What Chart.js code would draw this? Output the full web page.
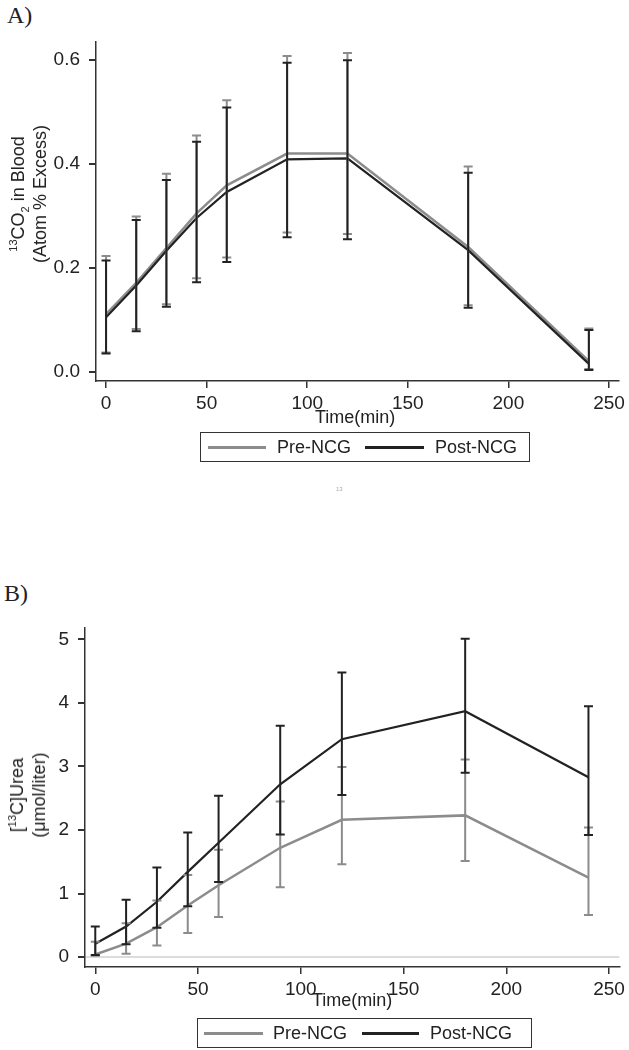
<!DOCTYPE html>
<html>
<head>
<meta charset="utf-8">
<script src="https://cdn.jsdelivr.net/npm/chart.js@4.4.0/dist/chart.umd.min.js"></script>
<style>
  body { margin: 0; background: #fff; width: 629px; height: 1050px; position: relative; overflow: hidden;
         font-family: "Liberation Sans", Arial, sans-serif; color: #222; }
  canvas { position: absolute; left: 0; }
  .panel { position: absolute; font-family: "Liberation Serif", "Times New Roman", serif; font-size: 24px; }
  .ytitle { position: absolute; font-size: 18px; white-space: nowrap; transform: translate(-50%, -50%) rotate(-90deg);
            text-align: center; line-height: 22px; }
  .ytitle sup, .ytitle sub { font-size: 11px; line-height: 0; }
  .xtitle { position: absolute; font-size: 18px; }
  .legend { position: absolute; border: 1.5px solid #333; box-sizing: border-box; height: 30px; font-size: 18px; }
  .legend span { position: absolute; top: 4px; }
  .legend i { position: absolute; top: 13px; height: 2.5px; }
</style>
</head>
<body>
<div class="panel" style="left:7px; top:2px;">A)</div>
<div class="panel" style="left:4px; top:580px;">B)</div>

<canvas id="chartA" width="629" height="430" style="top:0px;"></canvas>
<canvas id="chartB" width="629" height="420" style="top:580px;"></canvas>

<div class="ytitle" style="left:29px; top:194px;"><sup>13</sup>CO<sub>2</sub> in Blood<br>(Atom % Excess)</div>
<div class="ytitle" style="left:28px; top:795px;">[<sup>13</sup>C]Urea<br>(μmol/liter)</div>

<div class="xtitle" style="left:315px; top:407px;">Time(min)</div>
<div class="xtitle" style="left:312px; top:990px;">Time(min)</div>

<div class="legend" style="left:200px; top:432px; width:330px;">
  <i style="left:7px; width:58px; background:#8c8c8c;"></i><span style="left:76px;">Pre-NCG</span>
  <i style="left:164px; width:59px; background:#222;"></i><span style="left:234px;">Post-NCG</span>
</div>
<div class="legend" style="left:197px; top:1018px; width:335px;">
  <i style="left:6px; width:59px; background:#8c8c8c;"></i><span style="left:75px;">Pre-NCG</span>
  <i style="left:164px; width:57px; background:#222;"></i><span style="left:232px;">Post-NCG</span>
</div>

<div style="position:absolute; left:336px; top:486px; font-size:6px; color:#aaa;">13</div>

<script>
// shared
const times = [0, 15, 30, 45, 60, 90, 120, 180, 240];
const xTicks = [0, 50, 100, 150, 200, 250];

// A) 13CO2 in blood
const co2Ticks = [0, 0.2, 0.4, 0.6];
const co2Pre = [0.111, 0.171, 0.238, 0.305, 0.359, 0.420, 0.420, 0.240, 0.020];
const co2PreLo = [0.037, 0.082, 0.130, 0.180, 0.220, 0.268, 0.265, 0.128, 0.005];
const co2PreHi = [0.223, 0.299, 0.381, 0.455, 0.523, 0.608, 0.614, 0.395, 0.083];
const co2Post = [0.105, 0.166, 0.233, 0.296, 0.346, 0.409, 0.411, 0.234, 0.015];
const co2PostLo = [0.035, 0.078, 0.125, 0.172, 0.211, 0.259, 0.255, 0.123, 0.003];
const co2PostHi = [0.214, 0.292, 0.369, 0.443, 0.509, 0.595, 0.600, 0.383, 0.080];

// B) [13C]urea
const ureaTicks = [0, 1, 2, 3, 4, 5];
const ureaPre = [0.04, 0.21, 0.47, 0.81, 1.13, 1.72, 2.16, 2.23, 1.25];
const ureaPreLo = [0.02, 0.05, 0.18, 0.38, 0.63, 1.10, 1.46, 1.51, 0.66];
const ureaPreHi = [0.24, 0.53, 0.89, 1.29, 1.69, 2.45, 2.99, 3.11, 2.04];
const ureaPost = [0.21, 0.48, 0.87, 1.34, 1.80, 2.72, 3.43, 3.87, 2.83];
const ureaPostLo = [0.03, 0.20, 0.46, 0.80, 1.18, 1.93, 2.55, 2.90, 1.92];
const ureaPostHi = [0.48, 0.90, 1.41, 1.96, 2.54, 3.64, 4.48, 5.01, 3.95];

const GRAY = "#8c8c8c";
const BLACK = "#222";
const AXIS = "#333";
const FONT = { family: "'Liberation Sans', Arial, sans-serif", size: 19 };

function points(ys) {
    return times.map((t, i) => ({ x: t, y: ys[i] }));
}

// error bars drawn with the chart's own scales
const errorBars = {
    id: "errorBars",
    afterDatasetsDraw(chart) {
        const ctx = chart.ctx;
        const xs = chart.scales.x, ys = chart.scales.y;
        ctx.save();
        chart.data.datasets.slice().reverse().forEach((ds) => {
            if (!ds.lo) return;
            ctx.strokeStyle = ds.borderColor;
            ctx.lineWidth = 2;
            times.forEach((t, i) => {
                const x = xs.getPixelForValue(t);
                const y1 = ys.getPixelForValue(ds.lo[i]);
                const y2 = ys.getPixelForValue(ds.hi[i]);
                ctx.beginPath();
                ctx.moveTo(x, y1); ctx.lineTo(x, y2);
                ctx.moveTo(x - 4.5, y1); ctx.lineTo(x + 4.5, y1);
                ctx.moveTo(x - 4.5, y2); ctx.lineTo(x + 4.5, y2);
                ctx.stroke();
            });
        });
        ctx.restore();
    },
};

function makeChart(id, opt) {
    return new Chart(document.getElementById(id), {
        type: "line",
        data: {
            datasets: [
                {
                    label: "Post-NCG",
                    data: points(opt.post),
                    lo: opt.postLo, hi: opt.postHi,
                    borderColor: BLACK,
                    borderWidth: 2.2,
                    pointRadius: 0,
                    tension: 0,
                },
                {
                    label: "Pre-NCG",
                    data: points(opt.pre),
                    lo: opt.preLo, hi: opt.preHi,
                    borderColor: GRAY,
                    borderWidth: 2.5,
                    pointRadius: 0,
                    tension: 0,
                },
            ],
        },
        options: {
            responsive: false,
            animation: false,
            devicePixelRatio: 1,
            layout: { padding: opt.padding },
            plugins: {
                legend: { display: false },
                title: { display: false },
                tooltip: { enabled: false },
            },
            scales: {
                x: {
                    type: "linear",
                    min: -5,
                    max: 255,
                    afterBuildTicks: (s) => { s.ticks = xTicks.map((v) => ({ value: v })); },
                    afterFit: (s) => { s.height = opt.xHeight; },
                    grid: { drawOnChartArea: false, tickLength: 7, color: AXIS, lineWidth: 1.5 },
                    border: { display: true, color: AXIS, width: 1.5 },
                    ticks: { color: BLACK, font: FONT, padding: opt.xPad, maxRotation: 0 },
                },
                y: {
                    type: "linear",
                    min: opt.yMin,
                    max: opt.yMax,
                    afterBuildTicks: (s) => { s.ticks = opt.yTicks.map((v) => ({ value: v })); },
                    afterFit: (s) => { s.width = opt.yWidth; },
                    grid: {
                        drawOnChartArea: opt.zeroLine,
                        color: (c) => (c.tick && c.tick.value === 0 ? "#dcdcdc" : "rgba(0,0,0,0)"),
                        lineWidth: 2,
                        tickColor: AXIS,
                        tickLength: 7,
                    },
                    border: { display: true, color: AXIS, width: 1.5 },
                    ticks: {
                        color: BLACK,
                        font: FONT,
                        padding: 9,
                        callback: opt.fmt,
                    },
                },
            },
        },
        plugins: [errorBars],
    });
}

makeChart("chartA", {
    pre: co2Pre, preLo: co2PreLo, preHi: co2PreHi,
    post: co2Post, postLo: co2PostLo, postHi: co2PostHi,
    yTicks: co2Ticks, yMin: -0.018, yMax: 0.635,
    fmt: (v) => v.toFixed(1),
    padding: { left: 0, right: 9, top: 42, bottom: 0 },
    yWidth: 96, xHeight: 49, xPad: 4, zeroLine: false,
});

makeChart("chartB", {
    pre: ureaPre, preLo: ureaPreLo, preHi: ureaPreHi,
    post: ureaPost, postLo: ureaPostLo, postHi: ureaPostHi,
    yTicks: ureaTicks, yMin: -0.157, yMax: 5.18,
    fmt: (v) => String(v),
    padding: { left: 0, right: 7, top: 48, bottom: 0 },
    yWidth: 85, xHeight: 33, xPad: 4, zeroLine: true,
});
</script>
</body>
</html>
